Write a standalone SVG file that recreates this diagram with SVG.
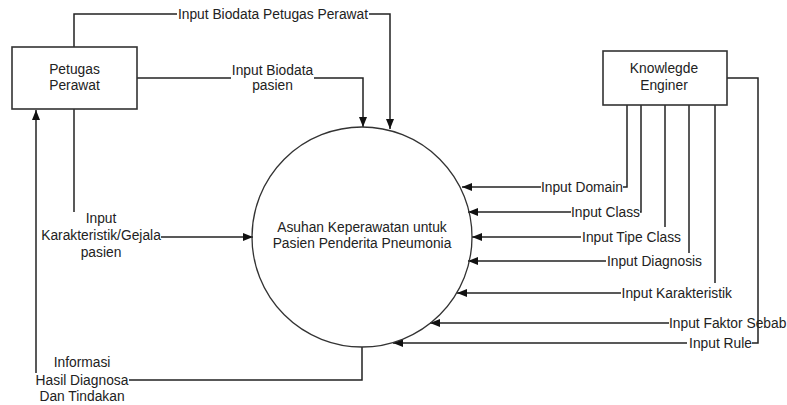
<svg xmlns="http://www.w3.org/2000/svg" width="787" height="405" viewBox="0 0 787 405">
<defs>
<style>
text{font-family:"Liberation Sans",Arial,sans-serif;font-size:13.8px;fill:#222}
.c{text-anchor:middle}
.e{text-anchor:end}
.box{fill:#fff;stroke:#333;stroke-width:1.6}
.ln{fill:none;stroke:#222;stroke-width:1.5}
.ar{fill:none;stroke:#222;stroke-width:1.5;marker-end:url(#ah)}
</style>
<marker id="ah" viewBox="0 0 10 8" refX="10" refY="4" markerWidth="10" markerHeight="8" markerUnits="userSpaceOnUse" orient="auto">
<path d="M0,0 L10,4 L0,8 Z" fill="#111"/>
</marker>
</defs>
<rect width="787" height="405" fill="#fff"/>
<g id="connectors">
<path class="ln" d="M74,47 V14 H177"/>
<path class="ar" d="M369,14 H390 V129"/>
<text x="273" y="19" class="c">Input Biodata Petugas Perawat</text>
<path class="ln" d="M137,78 H231"/>
<path class="ar" d="M314,78 H363 V127"/>
<text x="272.5" y="74.5" class="c">Input Biodata</text>
<text x="272.5" y="90" class="c">pasien</text>
<path class="ln" d="M74,109 V212"/>
<path class="ar" d="M161,237 H253"/>
<text x="101" y="223" class="c">Input</text>
<text x="101" y="240" class="c">Karakteristik/Gejala</text>
<text x="101" y="256.5" class="c">pasien</text>
<path class="ln" d="M362,347 V380 H129"/>
<path class="ar" d="M36,373 V110"/>
<text x="82" y="367" class="c">Informasi</text>
<text x="82" y="384.5" class="c">Hasil Diagnosa</text>
<text x="82" y="401" class="c">Dan Tindakan</text>
<path class="ln" d="M627,105 V187 H623"/>
<path class="ar" d="M541,187 H462"/>
<text x="623" y="191.5" class="e">Input Domain</text>
<path class="ln" d="M641,105 V212 H640"/>
<path class="ar" d="M571,212 H468"/>
<text x="640" y="216.5" class="e">Input Class</text>
<path class="ln" d="M665,105 V227"/>
<path class="ar" d="M581,237 H472"/>
<text x="681" y="241.5" class="e">Input Tipe Class</text>
<path class="ln" d="M689,105 V253"/>
<path class="ar" d="M606,261 H468"/>
<text x="702" y="265.5" class="e">Input Diagnosis</text>
<path class="ln" d="M715,105 V283"/>
<path class="ar" d="M621,293 H457"/>
<text x="732" y="297.5" class="e">Input Karakteristik</text>
<path class="ln" d="M727,78 H758 V343 H752"/>
<path class="ar" d="M669,323 H430"/>
<text x="669" y="327.5">Input Faktor Sebab</text>
<path class="ar" d="M687,343 H393"/>
<text x="752" y="347.5" class="e">Input Rule</text>
</g>
<g id="petugas">
<rect class="box" x="12" y="47" width="125" height="62"/>
<text x="74.5" y="74" class="c">Petugas</text>
<text x="74.5" y="90" class="c">Perawat</text>
</g>
<g id="knowledge">
<rect class="box" x="603" y="51" width="124" height="54"/>
<text x="664" y="73" class="c">Knowlegde</text>
<text x="664" y="90" class="c">Enginer</text>
</g>
<g id="process">
<circle cx="362" cy="237" r="110" fill="none" stroke="#333" stroke-width="1.3"/>
<text x="362" y="232" class="c">Asuhan Keperawatan untuk</text>
<text x="362" y="248" class="c">Pasien Penderita Pneumonia</text>
</g>
</svg>
